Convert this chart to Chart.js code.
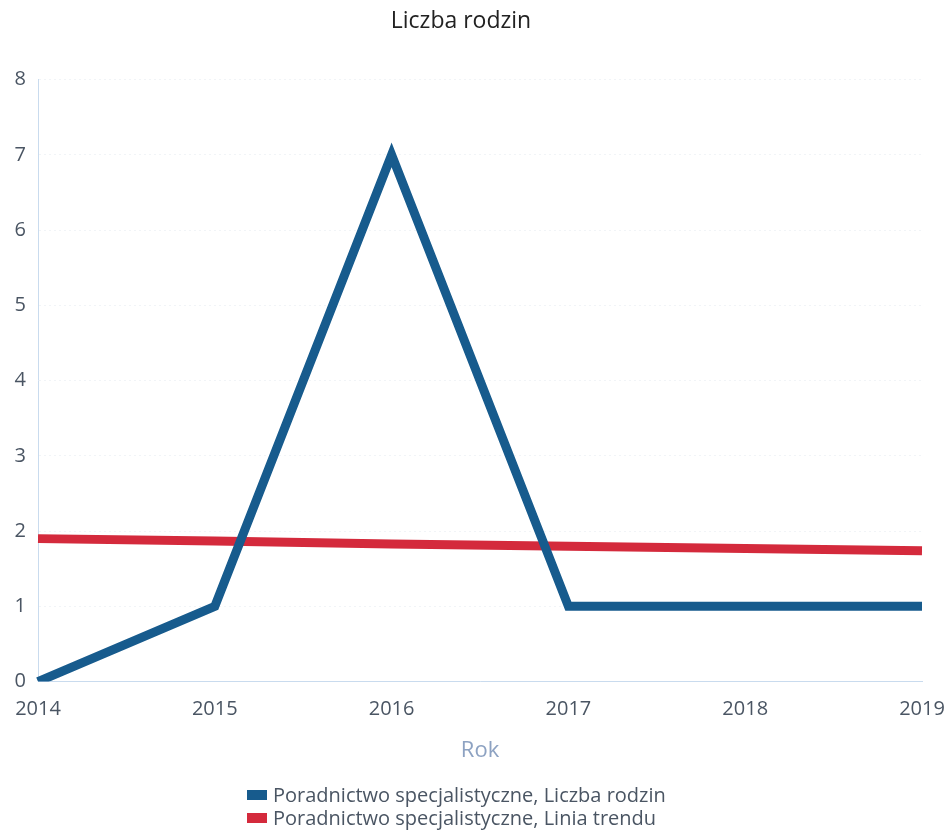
<!DOCTYPE html>
<html lang="pl">
<head>
<meta charset="utf-8">
<script src="https://cdn.jsdelivr.net/npm/chart.js@4"></script>
<style>
    body { margin: 0; background: #fff; }
    .wrap { position: relative; width: 948px; height: 833px; }
    #legend { position: absolute; left: 247px; top: 783px; font-family: "Open Sans", sans-serif; font-size: 20px; color: #4a5563; line-height: 23px; }
    #legend .item { display: flex; align-items: center; white-space: nowrap; }
    #legend .box { width: 20px; height: 10px; margin-right: 6px; }
</style>
</head>
<body>
<div class="wrap">
    <canvas id="chart" width="948" height="833"></canvas>
    <div id="legend"></div>
</div>
<script>
// Data
const years = ['2014', '2015', '2016', '2017', '2018', '2019'];
const familyCount = [0, 1, 7, 1, 1, 1];
const trendLine = [1.9, 1.87, 1.83, 1.8, 1.77, 1.74];
const yTicks = [0, 1, 2, 3, 4, 5, 6, 7, 8];

const seriesNames = ['Poradnictwo specjalistyczne, Liczba rodzin', 'Poradnictwo specjalistyczne, Linia trendu'];
const seriesColors = ['#175b8d', '#d42a3c'];

const ctx = document.getElementById('chart').getContext('2d');
const chart = new Chart(ctx, {
    type: 'line',
    data: {
        labels: years,
        datasets: [
            {
                label: seriesNames[0],
                data: familyCount,
                borderColor: seriesColors[0],
                backgroundColor: seriesColors[0],
                borderWidth: 9,
                borderJoinStyle: 'miter',
                pointRadius: 0,
                tension: 0
            },
            {
                label: seriesNames[1],
                data: trendLine,
                borderColor: seriesColors[1],
                backgroundColor: seriesColors[1],
                borderWidth: 9,
                pointRadius: 0,
                tension: 0
            }
        ]
    },
    options: {
        responsive: false,
        animation: false,
        layout: { padding: { left: 0, right: 26, top: 0, bottom: 69 } },
        plugins: {
            legend: { display: false },
            tooltip: { enabled: false },
            title: {
                display: true,
                text: 'Liczba rodzin',
                color: '#222',
                font: { family: '"Open Sans", sans-serif', size: 23, weight: 'normal' },
                padding: { top: 8, bottom: 44 }
            }
        },
        scales: {
            x: {
                offset: false,
                afterFit: axis => { axis.paddingRight = 0; },
                grid: { display: false },
                border: { display: true, color: '#c9dbee', dash: [2, 3], width: 1 },
                ticks: {
                    color: '#4a5563',
                    font: { family: '"Open Sans", sans-serif', size: 20 },
                    padding: 8,
                    maxRotation: 0
                },
                title: {
                    display: true,
                    text: 'Rok',
                    color: '#8da2c2',
                    font: { family: '"Open Sans", sans-serif', size: 22 },
                    padding: { top: 8, bottom: 0 }
                }
            },
            y: {
                min: 0,
                max: 8,
                afterBuildTicks: axis => { axis.ticks = yTicks.map(v => ({ value: v })); },
                afterFit: axis => { axis.width = 38; },
                grid: { color: 'rgba(200, 210, 225, 0.25)', drawTicks: false },
                border: { display: true, color: '#c9dbee', dash: [2, 3], width: 1 },
                ticks: {
                    color: '#4a5563',
                    font: { family: '"Open Sans", sans-serif', size: 20 },
                    padding: 12
                }
            }
        }
    }
});

// Legend as stacked rows, left aligned
const legend = document.getElementById('legend');
legend.innerHTML = seriesNames.map((name, i) => `
    <div class="item"><span class="box" style="background:${seriesColors[i]}"></span>${name}</div>
`).join('');
</script>
</body>
</html>
